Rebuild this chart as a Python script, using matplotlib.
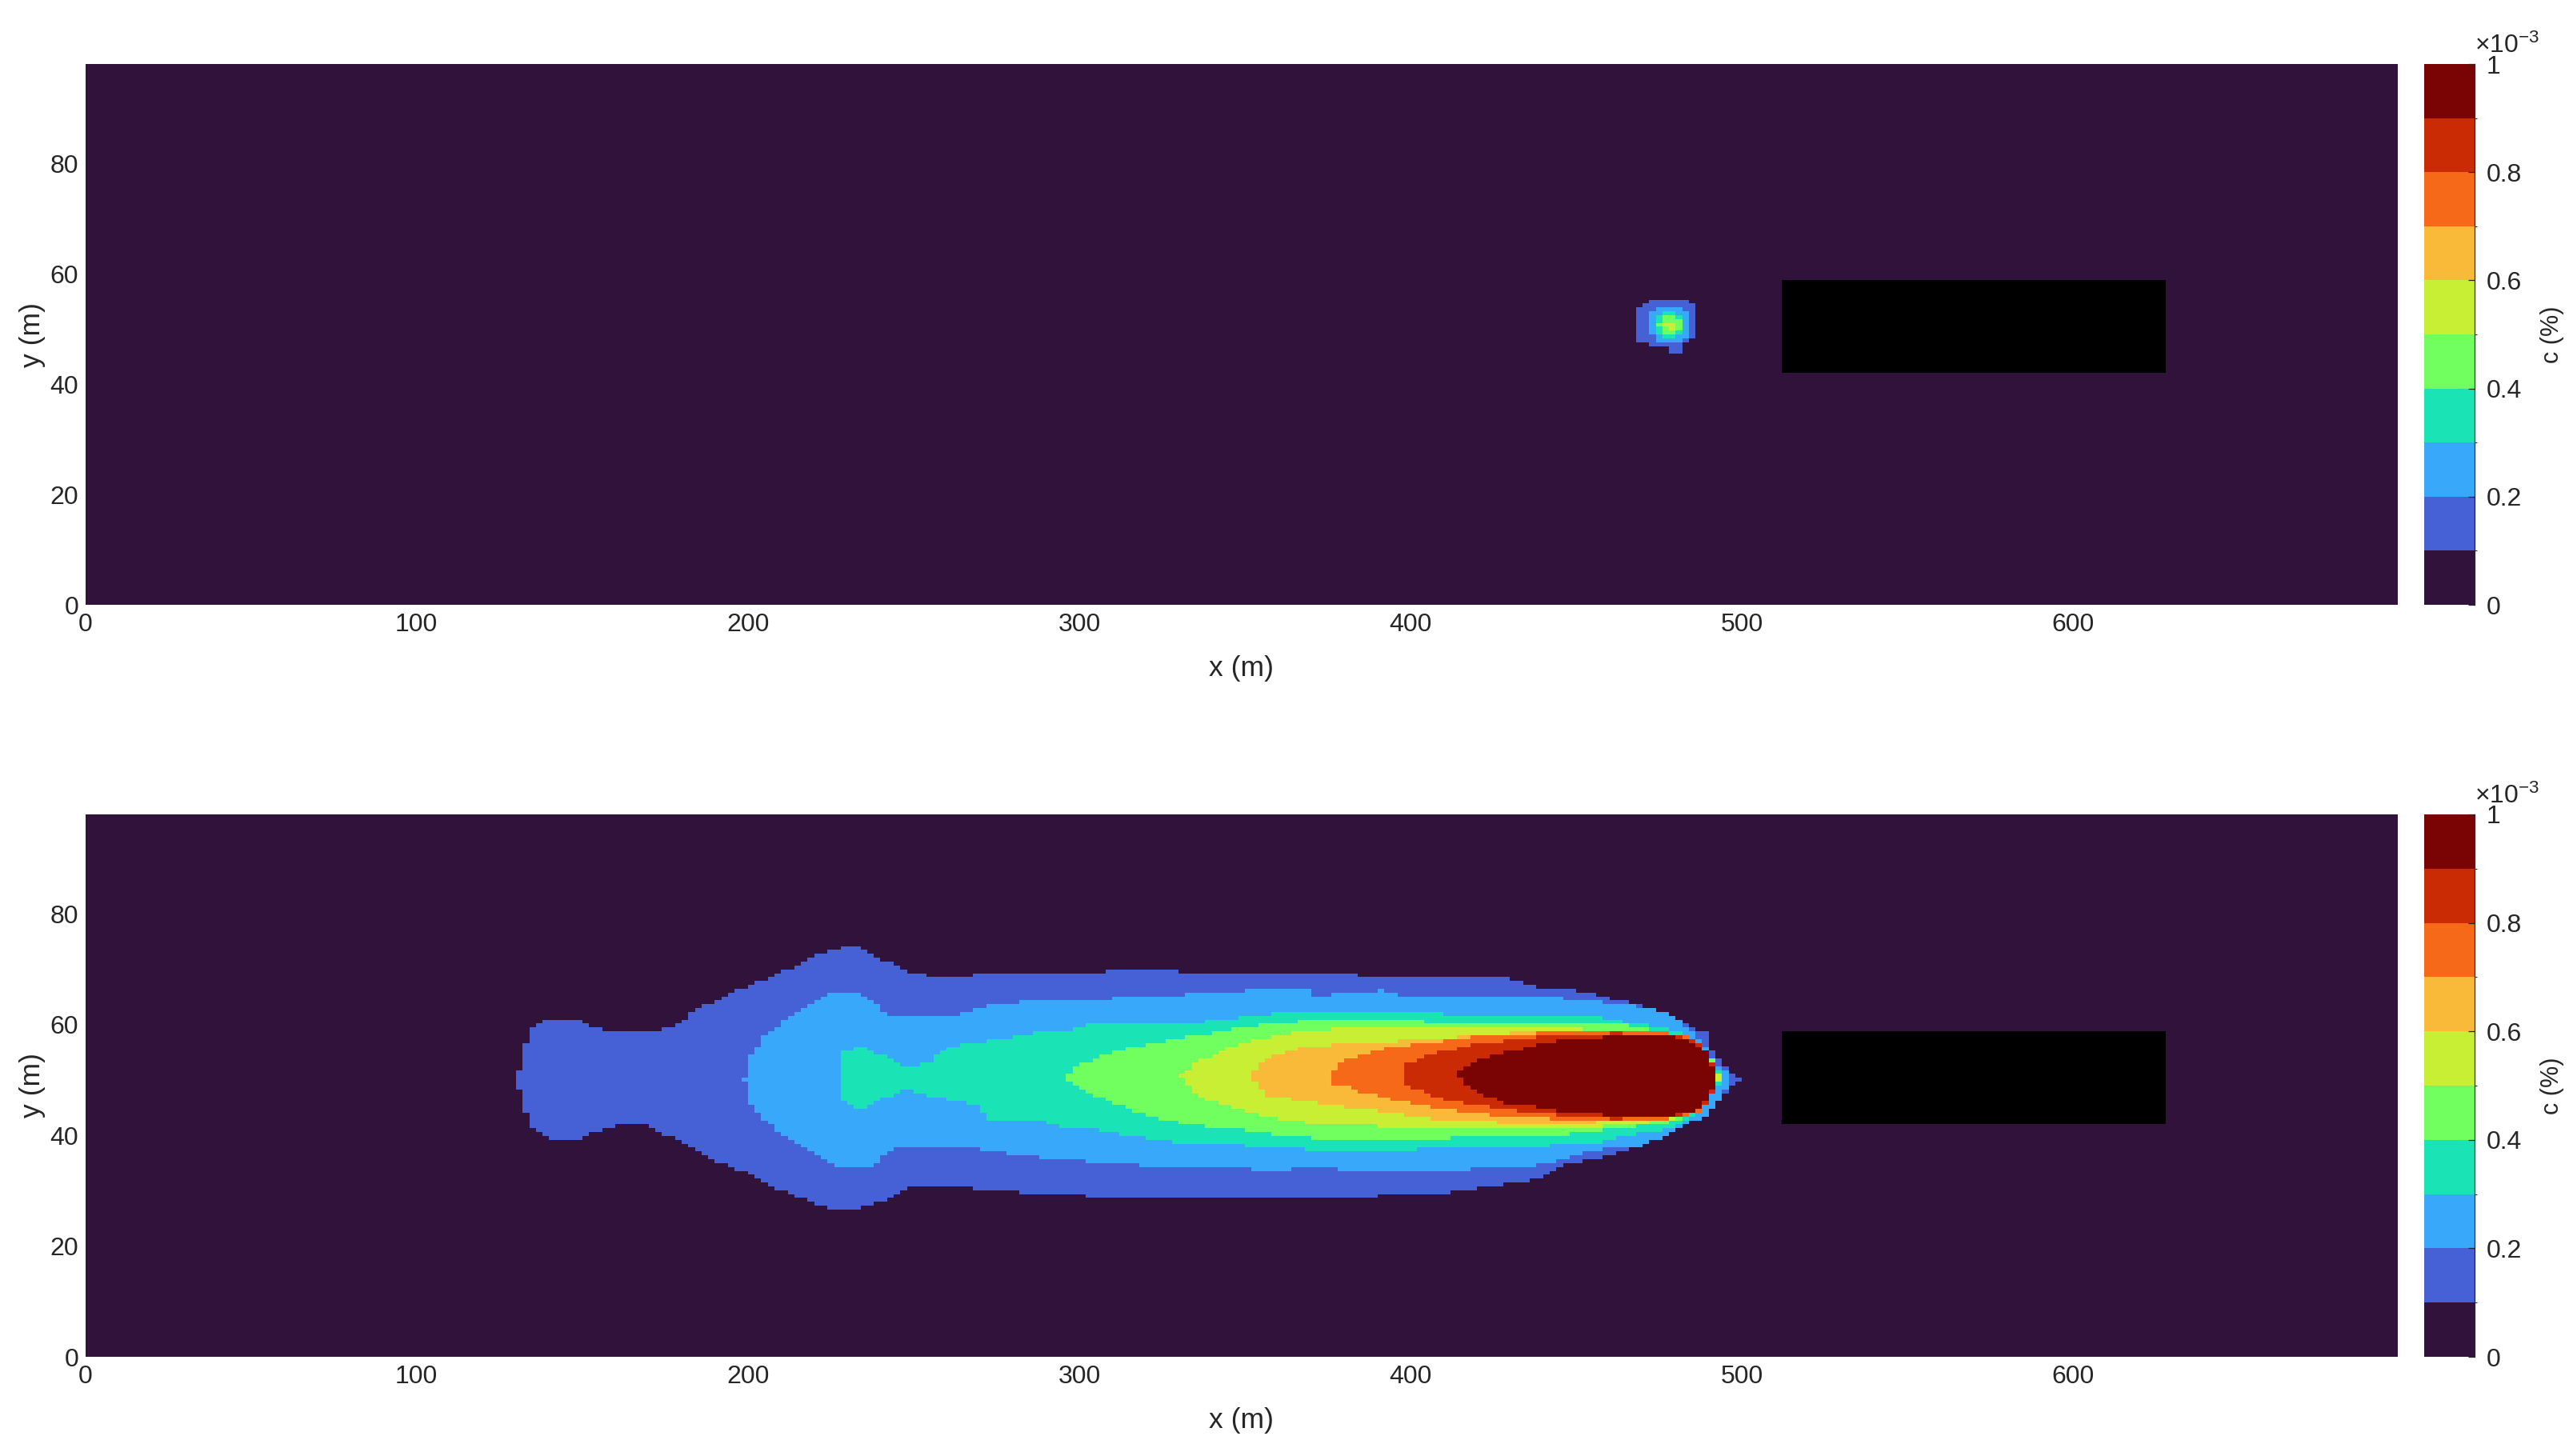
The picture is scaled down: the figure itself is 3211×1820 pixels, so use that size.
import numpy as np
import matplotlib
matplotlib.use("Agg")
import matplotlib.pyplot as plt
from matplotlib.colors import ListedColormap, BoundaryNorm
from matplotlib.path import Path

plt.rcParams["font.family"] = ["Liberation Sans", "DejaVu Sans"]
plt.rcParams["mathtext.fontset"] = "custom"
plt.rcParams["mathtext.rm"] = "Liberation Sans"
plt.rcParams["mathtext.it"] = "Liberation Sans:italic"

TEXT = "#262626"

# domain / grid of the concentration field (m)
X_MAX, Y_MAX = 698.0, 98.0
DX, DY = 2.0, 0.7

# colour levels, in units of 1e-3 %
C_BOUNDS = [0.0, 0.1, 0.2, 0.3, 0.4, 0.5, 0.6, 0.7, 0.8, 0.9, 1.0]
C_TICKS = [0.0, 0.2, 0.4, 0.6, 0.8, 1.0]
C_TICKLABELS = ["0", "0.2", "0.4", "0.6", "0.8", "1"]
X_TICKS = [0, 100, 200, 300, 400, 500, 600]
Y_TICKS = [0, 20, 40, 60, 80]

# building (no-data block)
OBSTACLE_X = [512.0, 628.0]
OBSTACLE_Y = [41.7, 58.7]

# ── panel 1: early puff, contour outlines ────────────────────────────────────
# each level: x stations, upper edge, lower edge of the region c >= level
T1_X = [468.0, 469.5, 473.0, 477.4, 477.5, 481.5, 481.6, 484.0, 485.7]
T1_TOP = [52.5, 54.3, 55.6, 55.6, 55.6, 55.6, 55.6, 55.6, 53.5]
T1_BOT = [48.5, 47.5, 47.2, 47.2, 45.2, 45.2, 47.1, 47.5, 49.0]

T2_X = [472.0, 473.5, 478.0, 482.5, 484.1]
T2_TOP = [51.5, 53.6, 54.1, 53.6, 51.5]
T2_BOT = [49.8, 48.1, 47.6, 48.1, 49.8]

T3_X = [473.3, 475.0, 478.0, 481.2, 482.9]
T3_TOP = [51.2, 52.6, 53.1, 52.6, 51.2]
T3_BOT = [50.0, 48.8, 48.3, 48.8, 50.0]

T4_X = [474.9, 476.5, 478.3, 480.1, 481.7]
T4_TOP = [51.2, 52.1, 52.4, 52.1, 51.2]
T4_BOT = [50.2, 49.3, 49.0, 49.3, 50.2]

T5_X = [476.5, 478.5, 480.5]
T5_TOP = [51.0, 51.5, 51.0]
T5_BOT = [50.3, 49.8, 50.3]

# ── panel 2: developed plume ─────────────────────────────────────────────────
B1_X = [130.5, 132, 135, 140, 149, 153, 160, 170, 177, 185, 193, 201, 209, 217,
        225, 232, 240, 250, 260, 271, 306, 312, 345, 377, 402, 417, 430, 435,
        441, 446, 455, 466, 473, 480, 485, 489, 491, 494, 497, 500]
B1_TOP = [50.0, 55.6, 59.4, 60.9, 60.9, 59.7, 58.5, 58.5, 59.7, 62.8, 65.2, 67.2,
          69.1, 71.5, 73.5, 74.2, 72.0, 69.3, 68.4, 69.1, 69.1, 70.3, 69.1, 69.2,
          68.4, 68.4, 68.4, 67.4, 66.5, 66.5, 65.5, 64.0, 62.8, 61.4, 59.7, 58.5,
          55.1, 53.4, 51.2, 50.0]
B1_BOT = [50.0, 44.9, 41.5, 39.5, 39.3, 40.3, 41.8, 41.8, 39.6, 37.2, 34.7, 32.8,
          30.4, 28.5, 26.5, 26.5, 28.0, 30.8, 31.1, 30.1, 28.9, 28.9, 28.9, 28.9,
          29.2, 30.1, 31.4, 31.4, 32.8, 34.7, 35.7, 37.6, 39.1, 40.6, 42.5, 44.0,
          45.4, 47.3, 48.8, 50.0]

B2_X = [198.8, 201.3, 205.3, 213.3, 221.4, 228, 233.5, 238.3, 242, 250, 263, 272,
        285, 305, 312, 321, 352, 354, 369, 371, 392, 398, 439, 455, 469, 477, 484,
        488, 491, 494, 497.0]
B2_TOP = [50.2, 55.1, 58.0, 61.9, 64.8, 66.0, 66.0, 63.8, 61.9, 61.4, 61.9, 63.3,
          64.3, 64.3, 65.0, 65.0, 66.2, 66.2, 66.2, 65.2, 66.2, 65.2, 65.2, 64.3,
          63.3, 62.3, 59.4, 57.0, 54.1, 52.2, 50.2]
B2_BOT = [50.2, 44.9, 42.5, 39.1, 36.2, 34.3, 34.3, 34.7, 37.2, 38.1, 38.1, 37.2,
          36.2, 35.2, 35.2, 34.3, 34.3, 33.3, 34.3, 34.3, 33.3, 33.3, 34.7, 37.2,
          38.1, 39.6, 42.5, 42.5, 44.9, 47.3, 50.2]

B3_X = [227.0, 228.6, 233.5, 239.9, 248.0, 254.4, 259.0, 269.0, 272.0, 287.0,
        294.0, 302.0, 314.0, 330.0, 336.0, 349.0, 353.0, 361.0, 378.0, 415.0,
        440.0, 456.0, 466.0, 477.0, 484.0, 488.0, 491.0, 494.5]
B3_TOP = [50.7, 55.1, 56.0, 54.6, 52.2, 53.1, 55.6, 57.0, 57.0, 58.5, 58.5, 59.9,
          59.9, 59.9, 60.4, 61.4, 61.4, 62.3, 62.3, 61.9, 61.4, 61.4, 60.4, 59.2,
          58.0, 56.0, 53.6, 50.5]
B3_BOT = [50.7, 46.4, 44.4, 46.4, 48.3, 47.3, 46.8, 45.4, 43.0, 43.0, 41.5, 41.5,
          40.1, 38.6, 38.6, 38.6, 37.6, 37.6, 37.2, 37.6, 38.1, 38.6, 40.1, 41.0,
          43.0, 45.4, 47.8, 50.5]

B4_X = [295.4, 300.2, 308.2, 320.3, 332.4, 340.4, 348.5, 360.6, 377.5, 415.0,
        447.0, 465.0, 475.0, 481.0, 486.0, 489.0, 491.5, 493.8]
B4_TOP = [50.7, 52.7, 54.6, 56.5, 57.7, 58.5, 59.4, 60.4, 60.9, 60.4, 59.9, 59.9,
          58.9, 57.8, 56.5, 55.0, 53.2, 50.5]
B4_BOT = [50.7, 48.3, 46.4, 43.5, 42.0, 41.5, 41.0, 40.1, 39.1, 39.6, 40.1, 41.5,
          42.0, 43.0, 44.4, 45.9, 47.6, 50.5]

B5_X = [330.4, 336.4, 344.5, 352.5, 364.6, 377.5, 395.0, 423.0, 447.0, 455.0,
        475.0, 480.0, 486.0, 489.0, 491.3, 493.4]
B5_TOP = [50.7, 53.6, 55.6, 57.0, 58.5, 59.2, 59.7, 59.4, 59.4, 58.9, 58.9, 58.2,
          56.5, 55.0, 53.2, 50.5]
B5_BOT = [50.7, 46.8, 45.4, 43.9, 42.5, 42.0, 41.5, 41.0, 41.0, 41.5, 42.5, 42.8,
          44.4, 45.9, 47.6, 50.5]

B6_X = [351.7, 356.5, 364.6, 377.5, 391.0, 407.0, 431.0, 447.0, 472.0, 482.0,
        486.5, 489.3, 491.2, 493.0]
B6_TOP = [50.7, 54.1, 55.6, 56.5, 56.8, 57.5, 58.5, 59.0, 59.0, 58.0, 56.5, 55.0,
          53.2, 50.5]
B6_BOT = [50.7, 47.3, 46.4, 45.4, 44.4, 43.0, 42.2, 42.2, 42.6, 43.3, 44.4, 45.9,
          47.6, 50.5]

B7_X = [376.2, 378.2, 385.5, 395.1, 408.8, 420.1, 447.5, 475.6, 483.7, 487.0,
        489.5, 491.0, 492.7]
B7_TOP = [51.4, 53.1, 54.6, 56.0, 57.0, 58.0, 58.7, 58.7, 57.9, 56.5, 55.0, 53.2,
          50.5]
B7_BOT = [49.3, 49.3, 47.8, 46.4, 44.9, 43.9, 42.8, 42.8, 43.4, 44.4, 45.9, 47.6,
          50.5]

B8_X = [396.7, 399.2, 408.8, 420.1, 433.0, 447.5, 462.0, 479.7, 485.0, 488.0,
        490.5, 492.4]
B8_TOP = [51.2, 53.1, 55.1, 56.5, 57.5, 58.2, 58.5, 58.1, 57.2, 56.0, 54.0, 50.7]
B8_BOT = [51.2, 48.8, 46.8, 45.4, 44.4, 43.5, 43.0, 43.4, 44.0, 45.0, 46.8, 50.7]

B9_X = [414.4, 416.9, 420.1, 428.1, 436.2, 445.8, 463.6, 479.7, 485.0, 488.0,
        490.3, 492.0]
B9_TOP = [51.2, 52.7, 53.6, 55.1, 56.0, 57.2, 58.0, 57.9, 57.0, 55.8, 54.0, 50.7]
B9_BOT = [51.2, 49.3, 47.8, 45.9, 45.4, 44.2, 43.5, 43.6, 44.3, 45.3, 47.0, 50.7]

PANEL1 = [(T1_X, T1_TOP, T1_BOT), (T2_X, T2_TOP, T2_BOT), (T3_X, T3_TOP, T3_BOT),
          (T4_X, T4_TOP, T4_BOT), (T5_X, T5_TOP, T5_BOT)]
PANEL2 = [(B1_X, B1_TOP, B1_BOT), (B2_X, B2_TOP, B2_BOT), (B3_X, B3_TOP, B3_BOT),
          (B4_X, B4_TOP, B4_BOT), (B5_X, B5_TOP, B5_BOT), (B6_X, B6_TOP, B6_BOT),
          (B7_X, B7_TOP, B7_BOT), (B8_X, B8_TOP, B8_BOT), (B9_X, B9_TOP, B9_BOT)]


def band_field(outlines):
    """Rasterise the nested contour outlines onto the model grid."""
    xe = np.arange(0.0, X_MAX + DX / 2, DX)
    ye = np.linspace(0.0, Y_MAX, int(round(Y_MAX / DY)) + 1)
    xc = 0.5 * (xe[:-1] + xe[1:])
    yc = 0.5 * (ye[:-1] + ye[1:])
    XX, YY = np.meshgrid(xc, yc)
    pts = np.column_stack([XX.ravel(), YY.ravel()])
    b = np.asarray(C_BOUNDS)
    mids = 0.5 * (b[:-1] + b[1:])
    field = np.full(XX.shape, mids[0])
    for k, (xs, top, bot) in enumerate(outlines, start=1):
        xs = np.asarray(xs, float)
        verts = np.column_stack([np.r_[xs, xs[::-1]],
                                 np.r_[np.asarray(top, float), np.asarray(bot, float)[::-1]]])
        inside = Path(verts).contains_points(pts).reshape(XX.shape)
        field[inside] = mids[k]
    obst = ((XX > OBSTACLE_X[0]) & (XX < OBSTACLE_X[1]) &
            (YY > OBSTACLE_Y[0]) & (YY < OBSTACLE_Y[1]))
    field[obst] = np.nan
    return xe, ye, np.ma.masked_invalid(field)


turbo = plt.get_cmap("turbo")
cmap = ListedColormap(turbo(np.linspace(0, 1, len(C_BOUNDS) - 1)))
cmap.set_bad("black")
norm = BoundaryNorm(C_BOUNDS, cmap.N)

fig = plt.figure(figsize=(32.12, 18.20), dpi=100)
fig.patch.set_facecolor("white")

AX_L, AX_W = 0.0332, 0.8999
CB_L, CB_W = 0.9433, 0.0196
ROWS = [(0.5846, 0.3714), (0.0681, 0.3726)]

for (bottom, height), outlines in zip(ROWS, [PANEL1, PANEL2]):
    ax = fig.add_axes([AX_L, bottom, AX_W, height])
    xe, ye, field = band_field(outlines)
    mesh = ax.pcolormesh(xe, ye, field, cmap=cmap, norm=norm, shading="flat",
                         antialiased=False, linewidth=0, rasterized=True)
    ax.set_xlim(0, X_MAX)
    ax.set_ylim(0, Y_MAX)
    ax.set_xticks(X_TICKS)
    ax.set_yticks(Y_TICKS)
    ax.tick_params(axis="both", length=0, labelsize=23, colors=TEXT)
    ax.tick_params(axis="x", pad=7)
    ax.tick_params(axis="y", pad=6)
    for s in ax.spines.values():
        s.set_visible(False)
    ax.set_xlabel("x (m)", fontsize=25.5, color=TEXT, labelpad=17)
    ax.set_ylabel("y (m)", fontsize=25.5, color=TEXT, labelpad=4)

    cax = fig.add_axes([CB_L, bottom, CB_W, height])
    cb = fig.colorbar(mesh, cax=cax, ticks=C_TICKS)
    cb.set_ticklabels(C_TICKLABELS)
    cb.outline.set_visible(False)
    cax.spines["right"].set_visible(True)
    cax.spines["right"].set_color(TEXT)
    cax.spines["right"].set_linewidth(0.9)
    cax.tick_params(axis="y", direction="in", length=6, width=0.9, colors=TEXT,
                    labelsize=23, pad=11)
    cb.set_label("c (%)", fontsize=22, color=TEXT, labelpad=16)
    cax.text(1.0, 1.01, r"$\times10^{-3}$", transform=cax.transAxes,
             ha="left", va="bottom", fontsize=23, color=TEXT)

fig.savefig("out.png", dpi=100, facecolor="white")
